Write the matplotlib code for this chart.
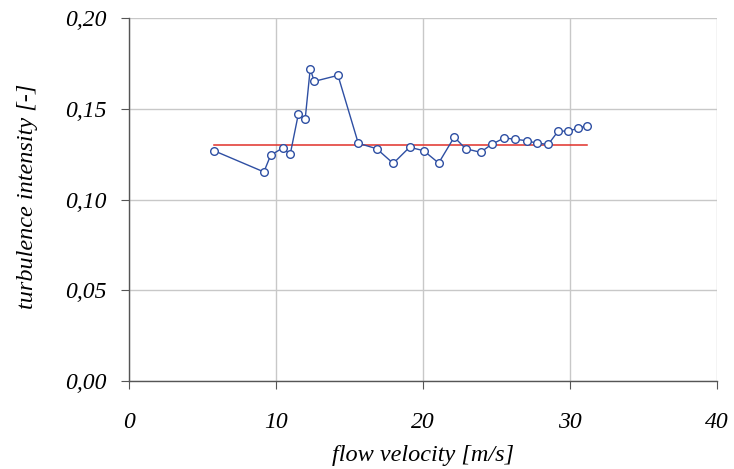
import matplotlib
matplotlib.use("Agg")
import matplotlib.pyplot as plt
from matplotlib.ticker import FuncFormatter

velocity = [5.78, 9.18, 9.64, 10.46, 10.97, 11.52, 11.99, 12.33, 12.61, 14.22, 15.6,
            16.85, 17.98, 19.09, 20.05, 21.07, 22.13, 22.9, 23.92, 24.67, 25.53,
            26.28, 27.05, 27.78, 28.53, 29.2, 29.88, 30.54, 31.18]
intensity = [0.1269, 0.1152, 0.1244, 0.1284, 0.1249, 0.1469, 0.1444, 0.1719, 0.1651,
             0.1684, 0.1310, 0.1280, 0.1199, 0.1288, 0.1269, 0.1201, 0.1344, 0.1280,
             0.1260, 0.1304, 0.1339, 0.1332, 0.1324, 0.1310, 0.1304, 0.1377, 0.1377,
             0.1392, 0.1407]
mean_x = [5.78, 31.18]
mean_y = [0.130, 0.130]

x_ticks = [0, 10, 20, 30, 40]
y_ticks = [0.00, 0.05, 0.10, 0.15, 0.20]

plt.rcParams['font.family'] = ['Liberation Serif', 'DejaVu Serif']
fig = plt.figure(figsize=(7.34, 4.69), dpi=100)
ax = fig.add_axes([0.1757, 0.1876, 0.801, 0.774])

ax.plot(mean_x, mean_y, color='#E0302A', lw=1.1, zorder=2)
ax.plot(velocity, intensity, color='#2E4FA3', lw=1.0, marker='o', ms=5.5,
        mfc='white', mec='#2E4FA3', mew=1.0, zorder=3)

ax.set_xlim(0, 40)
ax.set_ylim(0, 0.20)
ax.set_xticks(x_ticks)
ax.set_yticks(y_ticks)
ax.yaxis.set_major_formatter(FuncFormatter(lambda v, p: f"{v:.2f}".replace('.', ',')))
ax.xaxis.set_major_formatter(FuncFormatter(lambda v, p: f"{v:.0f}"))
ax.grid(True, color='#C8C8C8', lw=1.0)
ax.set_axisbelow(True)
for s in ['top', 'right']:
    ax.spines[s].set_visible(False)
for s in ['left', 'bottom']:
    ax.spines[s].set_color('#555555')
    ax.spines[s].set_linewidth(1.0)
ax.tick_params(axis='both', direction='out', length=6, color='#555555',
               labelsize=17)
ax.tick_params(axis='y', pad=10)
ax.tick_params(axis='x', pad=16)
for lbl in ax.get_xticklabels() + ax.get_yticklabels():
    lbl.set_fontstyle('italic')
ax.set_xlabel('flow velocity [m/s]', fontsize=17.5, style='italic', labelpad=9)
ax.set_ylabel('turbulence intensity [-]', fontsize=17.5, style='italic', labelpad=17)
ax.yaxis.set_label_coords(-0.155, 0.51)

fig.savefig('out.png', dpi=100)
